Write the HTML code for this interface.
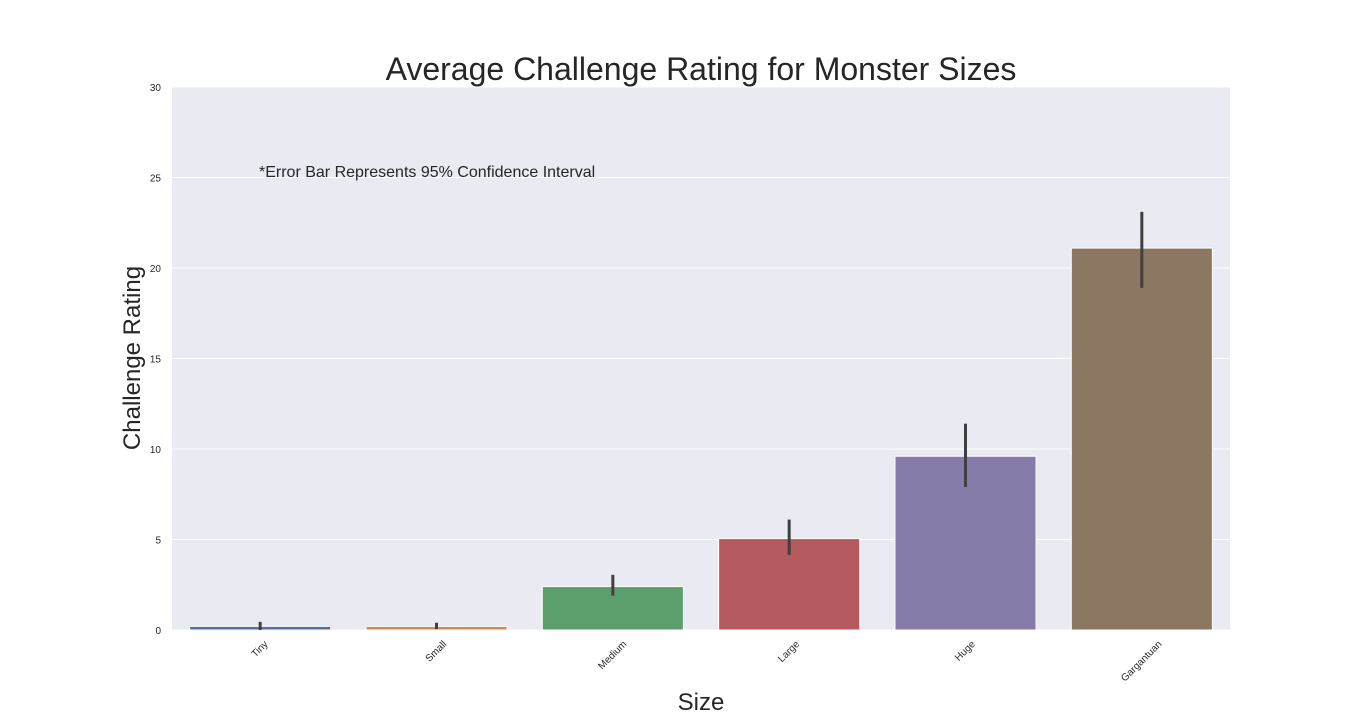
<!DOCTYPE html>
<html><head><meta charset="utf-8">
<style>
html,body{margin:0;padding:0;background:#fff;}
svg{display:block;font-family:"Liberation Sans",Arial,sans-serif;}
</style></head>
<body>
<svg id="chart" width="1368" height="720" viewBox="0 0 1368 720" xmlns="http://www.w3.org/2000/svg">
<rect x="0" y="0" width="1368" height="720" fill="#ffffff"/>
<rect x="172" y="87" width="1058" height="543" fill="#eaeaf2"/>
<g id="grid"></g>
<g id="yticks"></g>
<g id="bars"></g>
<g id="errs"></g>
<g id="xticks"></g>
<text x="701" y="80" font-size="32" text-anchor="middle" fill="#262626">Average Challenge Rating for Monster Sizes</text>
<text x="259" y="177" font-size="16" fill="#262626">*Error Bar Represents 95% Confidence Interval</text>
<text transform="translate(140,358) rotate(-90)" font-size="24" text-anchor="middle" fill="#262626">Challenge Rating</text>
<text x="701" y="710" font-size="24" text-anchor="middle" fill="#262626">Size</text>
</svg>
<script>
const categories = ["Tiny","Small","Medium","Large","Huge","Gargantuan"];
const values = [0.2, 0.2, 2.4, 5.05, 9.6, 21.1];
const errLow = [0.0, 0.05, 1.9, 4.15, 7.9, 18.9];
const errHigh = [0.45, 0.4, 3.05, 6.1, 11.4, 23.1];
const yTicks = [0, 5, 10, 15, 20, 25, 30];
const colors = ["#5470a0","#d08a5a","#5d9e6d","#b55a5e","#877ba9","#8c7763"];

const NS = "http://www.w3.org/2000/svg";
const x0 = 172, x1 = 1230, y0 = 630, y1 = 87, yMax = 30;
const band = (x1 - x0) / categories.length;
const yScale = v => y0 - (v / yMax) * (y0 - y1);
const xCenter = i => x0 + band * (i + 0.5);
function mk(tag, attrs, parent) {
  const e = document.createElementNS(NS, tag);
  for (const k in attrs) e.setAttribute(k, attrs[k]);
  document.getElementById(parent).appendChild(e);
  return e;
}
yTicks.forEach(t => {
  const g = mk("line", {x1: x0, x2: x1, y1: yScale(t), y2: yScale(t), stroke: "#ffffff", "stroke-width": 1}, "grid");
  
  
  const l = mk("text", {x: 161, y: yScale(t) + 4, "font-size": 10, "text-anchor": "end", fill: "#262626"}, "yticks");
  l.textContent = t;
  
  
});
categories.forEach((c, i) => {
  const w = band * 0.8;
  const b = mk("rect", {x: xCenter(i) - w / 2, y: yScale(values[i]), width: w, height: y0 - yScale(values[i]), fill: colors[i], stroke: "#ffffff", "stroke-width": 1}, "bars");
  
  
  const e = mk("line", {x1: xCenter(i), x2: xCenter(i), y1: yScale(errLow[i]), y2: yScale(errHigh[i]), stroke: "#3f3f3f", "stroke-width": 3}, "errs");
  
  
  const cx = xCenter(i);
  const t = mk("text", {x: cx, y: 0, "font-size": 10, "text-anchor": "middle", "dominant-baseline": "central", fill: "#262626"}, "xticks");
  t.textContent = c;
  const tw = t.getComputedTextLength();
  const bh = (tw + 11) * Math.SQRT1_2;
  const cy = 639 + bh / 2;
  t.setAttribute("y", cy);
  t.setAttribute("transform", "rotate(-45," + cx + "," + cy + ")");
  
  
});
</script>
</body></html>
